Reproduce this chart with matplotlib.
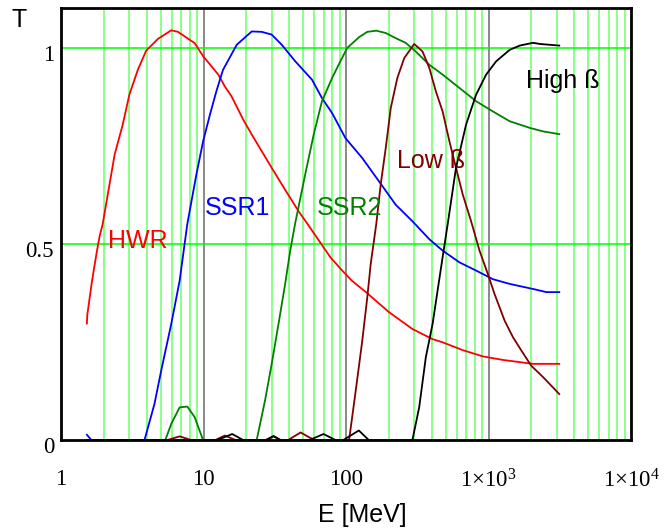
import matplotlib
matplotlib.use('Agg')
import matplotlib.pyplot as plt
import matplotlib.ticker as plticker
import matplotlib.transforms as mtransforms
import numpy as np

plt.rcParams['mathtext.fontset'] = 'custom'
plt.rcParams['mathtext.rm'] = 'Liberation Serif'
plt.rcParams['mathtext.it'] = 'Liberation Serif'

# transmission curves, E in MeV
hwr_e = [1.52, 1.53, 1.64, 1.71, 1.79, 1.87, 1.96, 2.38, 2.71, 3.02, 3.46, 3.96,
         4.79, 5.94, 6.62, 8.68, 9.93, 12.7, 14.1, 15.7, 19.0, 21.8, 30.1, 37.4,
         46.5, 53.2, 77.6, 93.9, 110, 141, 200, 292, 405, 476, 659, 912, 1262,
         2052, 3133]
hwr_t = [0.298, 0.32, 0.399, 0.441, 0.484, 0.522, 0.551, 0.729, 0.805, 0.882,
         0.945, 0.994, 1.024, 1.046, 1.042, 1.013, 0.98, 0.933, 0.903, 0.878,
         0.818, 0.78, 0.695, 0.639, 0.584, 0.554, 0.467, 0.433, 0.407, 0.375,
         0.327, 0.284, 0.258, 0.25, 0.23, 0.214, 0.205, 0.195, 0.195]

ssr1_e = [1.52, 1.64, 3.85, 4.53, 5.05, 5.94, 6.80, 7.70, 8.91, 9.94, 11.1, 12.3,
          13.7, 17.1, 21.8, 25.6, 30.1, 35.4, 44.0, 57.7, 67.8, 79.8, 99, 130,
          170, 223, 292, 384, 476, 624, 818, 1072, 1406, 2052, 2548, 3133]
ssr1_t = [0.014, 0.0, 0.0, 0.093, 0.178, 0.297, 0.407, 0.552, 0.678, 0.763,
          0.831, 0.89, 0.945, 1.009, 1.043, 1.042, 1.035, 1.009, 0.967, 0.92,
          0.873, 0.835, 0.771, 0.72, 0.661, 0.601, 0.559, 0.513, 0.484, 0.454,
          0.433, 0.411, 0.399, 0.386, 0.378, 0.378]

ssr2_e = [1.52, 5.39, 5.94, 6.80, 7.70, 8.67, 9.94, 23.6, 27.0, 30.1, 33.6, 37.4,
          40.6, 44.0, 51.7, 59.3, 67.8, 79.8, 91.3, 102, 123, 141, 163, 190,
          223, 262, 308, 384, 476, 624, 818, 1072, 1406, 1946, 2415, 3133]
ssr2_t = [0.0, 0.0, 0.042, 0.084, 0.086, 0.059, 0.0, 0.0, 0.101, 0.195, 0.297,
          0.399, 0.484, 0.554, 0.678, 0.78, 0.865, 0.924, 0.967, 1.001, 1.028,
          1.042, 1.045, 1.039, 1.026, 1.014, 0.992, 0.958, 0.933, 0.899, 0.865,
          0.839, 0.814, 0.797, 0.788, 0.781]

lowb_e = [1.52, 5.5, 6.8, 8.3, 12.0, 14.1, 17.0, 28.0, 31.0, 35.0, 39.0, 48.0,
          60.0, 105, 117, 130, 141, 149, 163, 175, 190, 206, 229, 256, 301, 344,
          384, 427, 476, 531, 591, 659, 754, 864, 989, 1102, 1297, 1483, 1698,
          1995, 2415, 3133]
lowb_t = [0.0, 0.0, 0.01, 0.0, 0.0, 0.012, 0.0, 0.0, 0.01, 0.0, 0.0, 0.02,
          0.0, 0.0, 0.127, 0.254, 0.365, 0.45, 0.552, 0.652, 0.746, 0.848,
          0.924, 0.975, 1.011, 0.992, 0.95, 0.89, 0.839, 0.763, 0.695, 0.627,
          0.559, 0.484, 0.424, 0.373, 0.305, 0.263, 0.229, 0.19, 0.161, 0.118]

highb_e = [1.52, 12.4, 15.9, 19.1, 27.0, 31.0, 35.0, 55.0, 69.5, 85.0, 95.0, 123,
           145, 292, 326, 363, 405, 439, 476, 517, 591, 695, 818, 962, 1132, 1406,
           1655, 2052, 2304, 3133]
highb_t = [0.0, 0.0, 0.016, 0.0, 0.0, 0.011, 0.0, 0.0, 0.016, 0.0, 0.0, 0.025,
           0.0, 0.0, 0.084, 0.212, 0.297, 0.382, 0.467, 0.552, 0.695, 0.805,
           0.882, 0.933, 0.967, 0.996, 1.007, 1.014, 1.011, 1.007]

x_ticks = [1, 10, 100, 1000, 10000]
x_tick_labels = ['1', '10', '100', r'$\mathregular{1{\times}10^{3}}$',
                 r'$\mathregular{1{\times}10^{4}}$']
y_ticks = [0, 0.5, 1]
y_tick_labels = ['0', '0.5', '1']

fig = plt.figure(figsize=(6.65, 5.29), dpi=100)
ax = fig.add_axes([0.0917, 0.1677, 0.8573, 0.8173])
ax.set_xscale('log')
ax.set_xlim(1, 10000)
ax.set_ylim(0, 1.103)

# grid: light green minor lines, gray decades, green horizontals
for dec in [1, 10, 100, 1000]:
    for m in range(2, 10):
        ax.axvline(dec * m, color='#80ff80', lw=1.3, zorder=0)
for dec in [10, 100, 1000]:
    ax.axvline(dec, color='#808080', lw=1.3, zorder=0)
for yv in [0.5, 1.0]:
    ax.axhline(yv, color='#00ff00', lw=1.1, zorder=0)

ax.plot(hwr_e, hwr_t, color='#ff0000', lw=1.3)
ax.plot(ssr1_e, ssr1_t, color='#0000ff', lw=1.3)
ax.plot(ssr2_e, ssr2_t, color='#008000', lw=1.3)
ax.plot(lowb_e, lowb_t, color='#800000', lw=1.3)
ax.plot(highb_e, highb_t, color='black', lw=1.3)

lab_kw = dict(family='Liberation Sans', fontsize=18, va='center', ha='left')
ax.text(2.13, 0.509, 'HWR', color='#ff0000', **lab_kw)
ax.text(10.2, 0.593, 'SSR1', color='#0000ff', **lab_kw)
ax.text(62.5, 0.593, 'SSR2', color='#008000', **lab_kw)
ax.text(229, 0.712, 'Low ß', color='#800000', **lab_kw)
ax.text(1841, 0.916, 'High ß', color='black', **lab_kw)

ax.xaxis.set_major_locator(plticker.FixedLocator(x_ticks))
ax.xaxis.set_minor_locator(plticker.NullLocator())
ax.set_xticks(x_ticks)
ax.set_xticklabels(x_tick_labels, family='Liberation Serif', fontsize=16.5)
ax.set_yticks(y_ticks)
ax.set_yticklabels(y_tick_labels, family='Liberation Serif', fontsize=16.5)
ax.tick_params(axis='both', length=0)
ax.tick_params(axis='x', pad=21)
ax.tick_params(axis='y', pad=5)

# y labels sit a little below their lines
shift = mtransforms.ScaledTranslation(0, -5 / 100, fig.dpi_scale_trans)
for lbl in ax.get_yticklabels():
    lbl.set_transform(lbl.get_transform() + shift)

for sp in ax.spines.values():
    sp.set_linewidth(2)
    sp.set_color('black')
    sp.set_zorder(5)

fig.text(318 / 665, 1 - 515 / 529, 'E [MeV]', family='Liberation Sans',
         fontsize=18, ha='left', va='center')
fig.text(12 / 665, 1 - 20 / 529, 'T', family='Liberation Sans',
         fontsize=18, ha='left', va='center')

fig.savefig('out.png', dpi=100)
